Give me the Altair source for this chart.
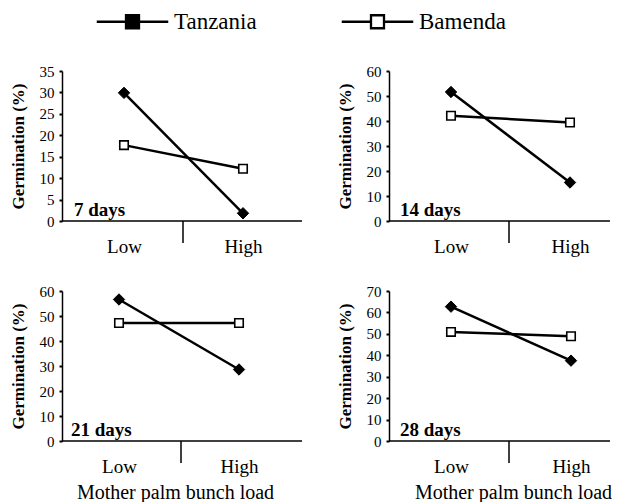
import altair as alt
import pandas as pd

FONT = "Liberation Serif"

# ---- data ----
loads = ["Low", "High"]
series = ["Tanzania", "Bamenda"]
panel_labels = ["7 days", "14 days", "21 days", "28 days"]
tanzania = [[29.9, 1.8], [51.6, 15.4], [56.6, 28.6], [62.7, 37.5]]
bamenda = [[17.7, 12.2], [42.1, 39.4], [47.2, 47.2], [50.9, 48.9]]
y_max = [35, 60, 60, 70]
y_ticks = [
    [0, 5, 10, 15, 20, 25, 30, 35],
    [0, 10, 20, 30, 40, 50, 60],
    [0, 10, 20, 30, 40, 50, 60],
    [0, 10, 20, 30, 40, 50, 60, 70],
]
y_title = "Germination (%)"
x_title = "Mother palm bunch load"

# ---- layout / style ----
H = 150
widths = [240, 221, 240, 221]
x_ranges = [[62, 181], [62, 181], [57, 177], [62, 182]]
dividers = [121, 120, 119, 120]
label_dx = [12, 11, 9, 11]
x_title_x = [None, None, 113, 124]

LEGEND_PATH = "M-5.5,0H-1M1,0H5.5M-1,-1H1V1H-1Z"


def panel(i):
    rows = []
    for s, vals in (("Tanzania", tanzania[i]), ("Bamenda", bamenda[i])):
        for l, v in zip(loads, vals):
            rows.append({"series": s, "load": l, "value": v})
    df = pd.DataFrame(rows)
    W = widths[i]
    bottom = i >= 2

    xaxis_kw = dict(domain=False, ticks=False, tickSize=0, labelAngle=0,
                    labelFontSize=19, labelPadding=31, labelBaseline="alphabetic")
    if bottom:
        xaxis_kw.update(title=x_title, titleFontSize=20, titleFontWeight="normal",
                        titleX=x_title_x[i], titleY=57, titleBaseline="alphabetic",
                        titleAlign="center", titleAnchor="middle")
    else:
        xaxis_kw.update(title=None)

    x = alt.X("load:N", sort=loads,
              scale=alt.Scale(domain=loads, range=x_ranges[i], padding=0),
              axis=alt.Axis(**xaxis_kw))
    y = alt.Y("value:Q",
              scale=alt.Scale(domain=[0, y_max[i]], nice=False, zero=True),
              axis=alt.Axis(title=y_title, values=y_ticks[i], tickSize=3, tickWidth=2,
                            labelPadding=5, labelFontSize=15, titleFontSize=17,
                            titleFontWeight="bold", titlePadding=12, domainWidth=1.5,
                            labelOverlap=False, labelFlush=False))

    legend = alt.Legend(title=None, orient="none", legendX=59, legendY=-61,
                        direction="horizontal", symbolType=LEGEND_PATH, symbolSize=169,
                        symbolStrokeWidth=2.3, symbolStrokeColor="black",
                        labelFontSize=23, labelFont=FONT, labelColor="black",
                        labelOffset=30, columnPadding=80, symbolOpacity=1)
    fill = alt.Fill("series:N",
                    scale=alt.Scale(domain=series, range=["black", "white"]),
                    legend=legend)

    base = alt.Chart(df).encode(x=x, y=y)
    lines = base.mark_line(color="black", strokeWidth=2.5).encode(detail="series:N")
    tz = base.transform_filter(alt.datum.series == "Tanzania").mark_point(
        shape="diamond", filled=True, size=130, stroke="black", strokeWidth=1, opacity=1
    ).encode(fill=fill)
    bm = base.transform_filter(alt.datum.series == "Bamenda").mark_point(
        shape="square", filled=True, size=72, stroke="black", strokeWidth=1.6, opacity=1
    ).encode(fill=fill)

    one = pd.DataFrame({"label": [panel_labels[i]]})
    baseline = alt.Chart(one).mark_rule(color="black", strokeWidth=1.5).encode(
        x=alt.value(0), x2=alt.value(W), y=alt.value(H))
    divider = alt.Chart(one).mark_rule(color="black", strokeWidth=1.5).encode(
        x=alt.value(dividers[i]), y=alt.value(H), y2=alt.value(H + 22))
    text = alt.Chart(one).mark_text(align="left", baseline="alphabetic", fontSize=19,
                                    fontWeight="bold", font=FONT, color="black").encode(
        text="label:N", x=alt.value(label_dx[i]), y=alt.value(H - 5))

    return alt.layer(baseline, divider, lines, tz, bm, text).properties(width=W, height=H)


chart = alt.concat(
    panel(0), panel(1), panel(2), panel(3),
    columns=2,
    spacing={"row": 70, "column": 87},
    bounds="flush",
).properties(
    padding={"left": 0, "top": 2, "right": 0, "bottom": 0},
    background="white",
).configure(font=FONT).configure_axis(
    labelFont=FONT, titleFont=FONT, labelColor="black", titleColor="black",
    domainColor="black", tickColor="black", grid=False,
).configure_view(stroke=None)

chart.save("out.html", embed_options={"renderer": "svg", "actions": False})
